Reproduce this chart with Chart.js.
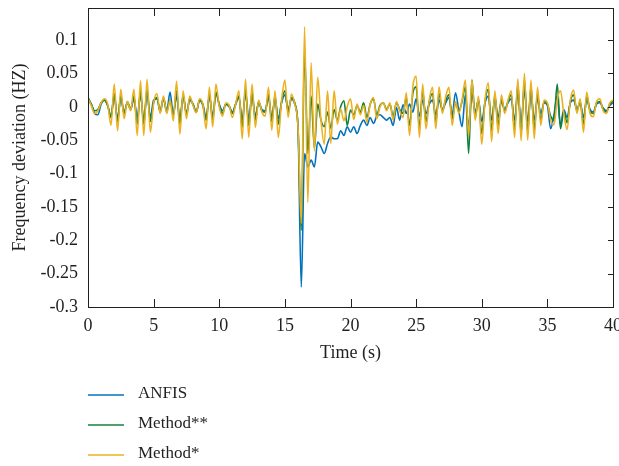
<!DOCTYPE html>
<html>
<head>
<meta charset="utf-8">
<title>Frequency deviation</title>
<script src="https://cdn.jsdelivr.net/npm/chart.js@4.4.1/dist/chart.umd.min.js"></script>
<style>
  html, body { margin: 0; padding: 0; background: #fff; }
  #wrap { width: 619px; height: 466px; position: relative; }
</style>
</head>
<body>
<div id="wrap"><canvas id="freqChart"></canvas></div>
<script>
/* ================= DATA ================= */
const timeS = [
  0, 0.25, 0.5, 0.75, 1, 1.25, 1.5, 1.75, 2, 2.25, 2.5, 2.75, 3, 3.25, 3.5, 3.75,
  4, 4.25, 4.5, 4.75, 5, 5.25, 5.5, 5.75, 6, 6.25, 6.5, 6.75, 7, 7.25, 7.5, 7.75,
  8, 8.25, 8.5, 8.75, 9, 9.25, 9.5, 9.75, 10, 10.25, 10.5, 10.75, 11, 11.25, 11.5, 11.75,
  12, 12.25, 12.5, 12.75, 13, 13.25, 13.5, 13.75, 14, 14.25, 14.5, 14.75, 15, 15.25, 15.5, 15.75,
  16, 16.25, 16.5, 16.75, 17, 17.25, 17.5, 17.75, 18, 18.25, 18.5, 18.75, 19, 19.25, 19.5, 19.75,
  20, 20.25, 20.5, 20.75, 21, 21.25, 21.5, 21.75, 22, 22.25, 22.5, 22.75, 23, 23.25, 23.5, 23.75,
  24, 24.25, 24.5, 24.75, 25, 25.25, 25.5, 25.75, 26, 26.25, 26.5, 26.75, 27, 27.25, 27.5, 27.75,
  28, 28.25, 28.5, 28.75, 29, 29.25, 29.5, 29.75, 30, 30.25, 30.5, 30.75, 31, 31.25, 31.5, 31.75,
  32, 32.25, 32.5, 32.75, 33, 33.25, 33.5, 33.75, 34, 34.25, 34.5, 34.75, 35, 35.25, 35.5, 35.75,
  36, 36.25, 36.5, 36.75, 37, 37.25, 37.5, 37.75, 38, 38.25, 38.5, 38.75, 39, 39.25, 39.5, 39.75,
  40
];

const anfis = [
  0.008, 0.004, -0.010, -0.012,   0.004, 0.010, 0.002, -0.014,
  0.016, -0.018, 0.014, -0.010,   0.006, -0.004, 0.012, -0.016,
  0.018, -0.020, 0.020, -0.016,   0.010, 0.012, -0.006, 0.014,
  -0.008, 0.022, -0.012, 0.016,   -0.018, 0.016, -0.010, 0.010,
  0.004, -0.008, 0.010, 0.004,    -0.016, 0.016, -0.014, 0.020,
  0.004, -0.006, 0.004, 0.000,    -0.008, 0.004, 0.014, -0.020,
  0.020, -0.018, 0.016, -0.014,   0.006, -0.004, -0.006, 0.014,
  -0.016, 0.012, -0.018, 0.006,   0.018, -0.004, 0.012, 0.004,
  -0.030, -0.270, -0.070, -0.090, -0.080, -0.090, -0.053, -0.060,
  -0.070, -0.055, -0.045, -0.048, -0.048, -0.036, -0.043, -0.030,
  -0.038, -0.030, -0.040, -0.028, -0.020, -0.028, -0.016, -0.025,
  -0.014, -0.012, -0.016, -0.020, -0.016, -0.028, -0.001, -0.020,
  0.003, -0.010, 0.004, -0.008,   0.012, -0.014, 0.010, -0.010,
  0.004, 0.010, -0.012, 0.010,    -0.004, 0.006, 0.014, -0.012,
  0.021, -0.006, -0.030, 0.018,   -0.030, 0.020, -0.008, 0.010,
  -0.022, 0.006, 0.016, -0.020,   0.012, -0.016, 0.008, -0.004,
  0.006, 0.012, -0.020, 0.020,    -0.024, 0.024, -0.022, 0.018,
  -0.020, 0.012, -0.010, 0.006,   0.002, -0.033, -0.012, 0.016,
  -0.028, -0.004, -0.016, 0.006,  0.010, -0.004, 0.006, -0.016,
  0.010, -0.004, -0.008, 0.004,   0.006, -0.002, -0.006, 0.002,
  0.006
];

const methodStarStar = [
  0.014, 0.004, -0.006, -0.004,   0.006, 0.010, 0.002, -0.016,
  0.020, -0.022, 0.016, -0.010,   0.008, -0.004, 0.016, -0.026,
  0.024, -0.026, 0.026, -0.022,   0.006, 0.014, -0.008, 0.012,
  -0.006, 0.010, -0.012, 0.024,   -0.026, 0.018, -0.012, 0.012,
  0.004, -0.008, 0.010, 0.002,    -0.020, 0.018, -0.020, 0.022,
  0.002, -0.010, 0.004, 0.002,    -0.010, 0.004, 0.016, -0.030,
  0.026, -0.028, 0.022, -0.020,   0.008, -0.006, -0.008, 0.018,
  -0.022, 0.016, -0.026, 0.008,   0.024, -0.008, 0.014, 0.006,
  -0.030, -0.185, 0.085, -0.070,  0.016, -0.062, 0.004, -0.020,
  -0.030, -0.008, -0.032, -0.004, -0.020, 0.000, 0.009, -0.028,
  -0.005, -0.012, 0.002, -0.008,  0.006, -0.016, 0.004, 0.012,
  -0.012, 0.002, 0.006, -0.004,   0.004, -0.014, 0.006, -0.004,
  -0.010, 0.014, -0.028, 0.020,   0.030, -0.032, 0.024, -0.022,
  0.008, 0.020, -0.022, 0.020,    -0.006, 0.010, 0.018, -0.018,
  0.006, -0.006, 0.008, 0.030,    -0.070, 0.040, -0.016, 0.012,
  -0.040, 0.008, 0.026, -0.036,   0.018, -0.028, 0.012, -0.006,
  0.008, 0.018, -0.034, 0.034,    -0.040, 0.040, -0.038, 0.030,
  -0.034, 0.020, -0.020, 0.008,   0.004, -0.014, -0.020, 0.034,
  -0.033, -0.006, -0.024, 0.008,  0.018, -0.006, 0.008, -0.026,
  0.016, -0.006, -0.010, 0.006,   0.008, -0.004, -0.008, 0.004,
  0.008
];

const methodStar = [
  0.012, 0.002, -0.010, -0.006,   0.006, 0.012, 0.004, -0.028,
  0.034, -0.036, 0.026, -0.018,   0.008, -0.006, 0.026, -0.043,
  0.039, -0.043, 0.041, -0.038,   0.006, 0.020, -0.010, 0.016,
  -0.010, 0.010, -0.021, 0.038,   -0.041, 0.024, -0.018, 0.016,
  0.002, -0.009, 0.012, 0.004,    -0.033, 0.029, -0.030, 0.034,
  0.000, -0.014, 0.006, 0.002,    -0.016, 0.004, 0.024, -0.048,
  0.041, -0.046, 0.034, -0.031,   0.010, -0.008, -0.014, 0.029,
  -0.035, 0.024, -0.046, 0.010,   0.040, -0.016, 0.019, 0.004,
  -0.030, -0.175, 0.120, -0.143,  0.066, -0.066, 0.044, -0.020,
  -0.056, 0.024, -0.055, 0.024,   -0.026, -0.003, -0.021, 0.000,
  0.012, -0.019, 0.004, -0.012,   0.002, -0.023, 0.004, 0.014,
  -0.018, 0.000, 0.006, -0.006,   0.006, -0.020, 0.008, -0.006,
  -0.016, 0.021, -0.043, 0.030,   0.046, -0.046, 0.034, -0.033,
  0.010, 0.029, -0.033, 0.030,    -0.010, 0.015, 0.029, -0.028,
  0.008, -0.010, 0.010, 0.040,    -0.044, 0.040, -0.020, 0.016,
  -0.056, 0.010, 0.036, -0.052,   0.024, -0.040, 0.018, -0.010,
  0.010, 0.024, -0.046, 0.042,    -0.051, 0.050, -0.050, 0.040,
  -0.048, 0.029, -0.028, 0.010,   0.006, -0.020, -0.027, 0.010,
  0.024, -0.010, -0.034, 0.010,   0.025, -0.010, 0.012, -0.038,
  0.022, -0.010, -0.015, 0.008,   0.012, -0.006, -0.010, 0.006,
  0.010
];

const seriesLabels = ["ANFIS", "Method**", "Method*"];
const seriesColors = ["#0072BD", "#13803B", "#EDB120"];
const xTicks = [0, 5, 10, 15, 20, 25, 30, 35, 40];
const yTicks = [-0.3, -0.25, -0.2, -0.15, -0.1, -0.05, 0, 0.05, 0.1];

/* ================= HELPERS ================= */
const FONT = "'Liberation Serif', 'DejaVu Serif', serif";
const INK = "#231F20";

function toPoints(values) {
  return timeS.map((t, i) => ({ x: t, y: values[i] }));
}

function fmt(v) {
  return String(Number(v.toFixed(2)));
}

/* ================= FRAME + LEGEND PLUGIN ================= */
const framePlugin = {
  id: "frame",
  afterDraw(chart) {
    const { ctx, chartArea: a, scales } = chart;
    ctx.save();
    ctx.strokeStyle = INK;
    ctx.lineWidth = 1;
    ctx.strokeRect(Math.round(a.left) + 0.5, Math.round(a.top) + 0.5,
      Math.round(a.right - a.left), Math.round(a.bottom - a.top));

    // inward tick marks: x on bottom and top, y on right
    ctx.beginPath();
    xTicks.forEach(v => {
      const px = Math.round(scales.x.getPixelForValue(v)) + 0.5;
      ctx.moveTo(px, a.bottom);
      ctx.lineTo(px, a.bottom - 8);
      ctx.moveTo(px, a.top);
      ctx.lineTo(px, a.top + 8);
    });
    yTicks.forEach(v => {
      const py = Math.round(scales.y.getPixelForValue(v)) + 0.5;
      ctx.moveTo(a.right, py);
      ctx.lineTo(a.right - 5, py);
    });
    ctx.stroke();

    // legend below the plot
    const rows = [394, 424, 454];
    ctx.font = "17px " + FONT;
    ctx.textBaseline = "middle";
    chart.data.datasets.forEach((ds, i) => {
      ctx.strokeStyle = ds.borderColor;
      ctx.lineWidth = 1.5;
      ctx.beginPath();
      ctx.moveTo(88, rows[i] + 1);
      ctx.lineTo(124, rows[i] + 1);
      ctx.stroke();
      ctx.fillStyle = INK;
      ctx.fillText(ds.label, 138, rows[i]);
    });
    ctx.restore();
  }
};

/* ================= CHART ================= */
const seriesValues = [anfis, methodStarStar, methodStar];

new Chart(document.getElementById("freqChart"), {
  type: "line",
  data: {
    datasets: seriesValues.map((vals, i) => ({
      label: seriesLabels[i],
      data: toPoints(vals),
      borderColor: seriesColors[i],
      backgroundColor: seriesColors[i],
      borderWidth: 1.6,
      pointRadius: 0,
      cubicInterpolationMode: "monotone",
      order: 3 - i
    }))
  },
  options: {
    responsive: true,
    maintainAspectRatio: false,
    devicePixelRatio: 1,
    animation: false,
    layout: { padding: { left: 0, right: 6, top: 8, bottom: 98 } },
    plugins: {
      legend: { display: false },
      tooltip: { enabled: false }
    },
    scales: {
      x: {
        type: "linear",
        min: 0,
        max: 40,
        grid: { display: false, drawTicks: false },
        border: { display: false },
        ticks: {
          stepSize: 5,
          padding: 8,
          maxRotation: 0,
          color: INK,
          font: { family: FONT, size: 18 }
        },
        title: {
          display: true,
          text: "Time (s)",
          color: INK,
          padding: { top: 0, bottom: 4 },
          font: { family: FONT, size: 18 }
        },
        afterFit(scale) {
          scale.height = 61;
          scale.paddingLeft = 0;
          scale.paddingRight = 0;
        }
      },
      y: {
        min: -0.3,
        max: 0.148,
        grid: { display: false, drawTicks: false },
        border: { display: false },
        afterBuildTicks(scale) {
          scale.ticks = yTicks.map(v => ({ value: v }));
        },
        ticks: {
          padding: 10,
          color: INK,
          font: { family: FONT, size: 18 },
          callback: v => fmt(v)
        },
        title: {
          display: true,
          text: "Frequency deviation (HZ)",
          color: INK,
          padding: { top: 9, bottom: 0 },
          font: { family: FONT, size: 18 }
        },
        afterFit(scale) {
          scale.width = 88;
          scale.paddingTop = 0;
          scale.paddingBottom = 0;
        }
      }
    }
  },
  plugins: [framePlugin]
});
</script>
</body>
</html>
